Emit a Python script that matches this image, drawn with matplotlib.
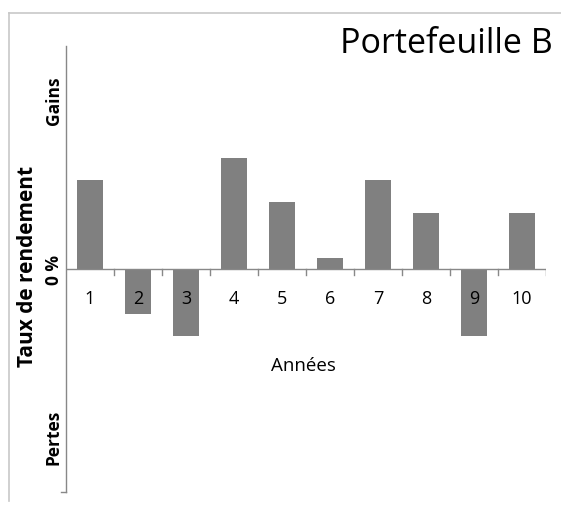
import matplotlib.pyplot as plt
import numpy as np

# valeurs
annees = ['1', '2', '3', '4', '5', '6', '7', '8', '9', '10']
rendement = [4, -2, -3, 5, 3, 0.5, 4, 2.5, -3, 2.5]

plt.rcParams['font.family'] = ['Open Sans', 'DejaVu Sans']

W, H = 561, 506
fig = plt.figure(figsize=(W / 100, H / 100), dpi=100)

# cadre gris clair autour du graphique
fig.add_artist(plt.Line2D([9 / W, 1], [1 - 14 / H, 1 - 14 / H], color='#c8c8c8', lw=1.2))
fig.add_artist(plt.Line2D([9 / W, 9 / W], [1 - 14 / H, 1 - 502 / H], color='#c8c8c8', lw=1.2))

ax = fig.add_axes([66 / W, 1 - 493 / H, (546 - 66) / W, (493 - 47) / H])
x = np.arange(len(annees))
ax.bar(x, rendement, width=0.56, color='#808080', zorder=1)

ax.set_xlim(-0.5, len(annees) - 0.5)
ax.set_ylim(-10, 10)
for s in ['top', 'right', 'bottom']:
    ax.spines[s].set_visible(False)
ax.spines['left'].set_color('#888888')
ax.spines['left'].set_linewidth(1)
ax.axhline(0, color='#888888', lw=1, zorder=2)
for b in np.arange(0.5, len(annees), 1):
    ax.plot([b, b], [0, -0.25], color='#888888', lw=1, zorder=2)
ax.plot([-0.5, -0.6], [-10, -10], color='#888888', lw=1, clip_on=False)
ax.set_xticks([])
ax.set_yticks([])

for xi, lab in zip(x, annees):
    ax.text(xi, -1.3, lab, ha='center', va='center', fontsize=13, zorder=3)

ax.text(4.45, -4.3, 'Années', ha='center', va='center', fontsize=13.5)

fig.text(54 / W, 1 - 270 / H, '0 %', rotation=90, ha='center', va='center', fontsize=12.5, fontweight='bold')
fig.text(54 / W, 1 - 101 / H, 'Gains', rotation=90, ha='center', va='center', fontsize=12.5, fontweight='bold')
fig.text(54 / W, 1 - 437 / H, 'Pertes', rotation=90, ha='center', va='center', fontsize=12.5, fontweight='bold')
fig.text(28 / W, 1 - 266 / H, 'Taux de rendement', rotation=90, ha='center', va='center',
         fontsize=15, fontweight='bold')

fig.text(553 / W, 1 - 44 / H, 'Portefeuille B', ha='right', va='center', fontsize=24.5)

fig.savefig('out.png', dpi=100)
